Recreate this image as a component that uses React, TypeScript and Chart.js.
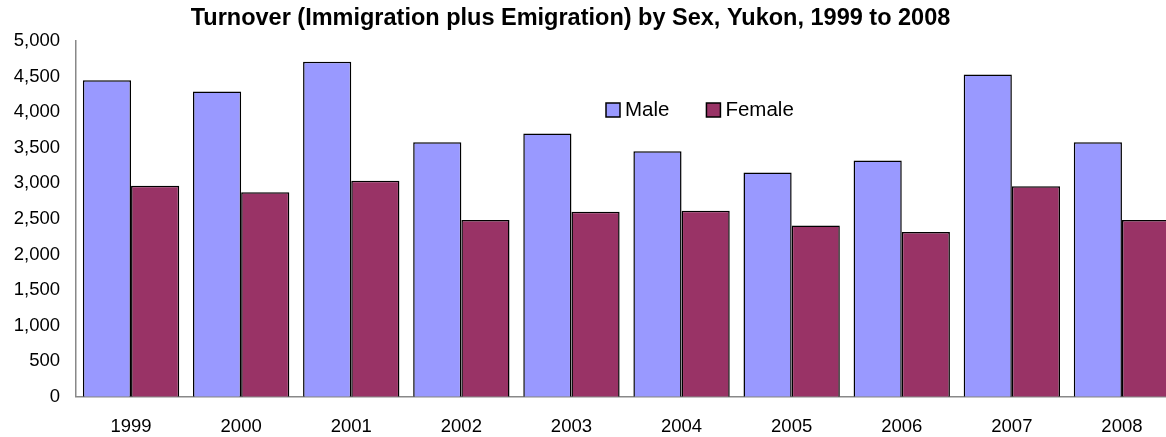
import React, { useEffect, useRef } from "react";
import { Chart, registerables } from "chart.js";

Chart.register(...registerables);

const categories = ["1999", "2000", "2001", "2002", "2003", "2004", "2005", "2006", "2007", "2008"];
const maleValues = [4450, 4290, 4710, 3575, 3700, 3450, 3150, 3320, 4530, 3575];
const femaleValues = [2965, 2875, 3035, 2485, 2600, 2615, 2405, 2315, 2960, 2485];
const seriesLabels = ["Male", "Female"];
const seriesColors = ["#9999FF", "#993366"];
const titleText = "Turnover (Immigration plus Emigration) by Sex, Yukon, 1999 to 2008";

const FONT = "'Liberation Sans', Arial, Helvetica, sans-serif";

const overlayPlugin = {
  id: "overlay",
  afterDraw(chart: any) {
    const ctx = chart.ctx;
    ctx.save();
    // title
    ctx.fillStyle = "#000";
    ctx.font = `bold 23.5px ${FONT}`;
    ctx.textAlign = "center";
    ctx.textBaseline = "middle";
    ctx.fillText(titleText, 570.5, 18.6);
    // legend
    ctx.font = `20.5px ${FONT}`;
    ctx.textAlign = "left";
    let x = 606;
    const y = 110;
    chart.data.datasets.forEach((ds: any) => {
      ctx.fillStyle = ds.backgroundColor;
      ctx.fillRect(x, y - 7, 14, 14);
      ctx.strokeStyle = "#000";
      ctx.lineWidth = 1.5;
      ctx.strokeRect(x, y - 7, 14, 14);
      ctx.fillStyle = "#000";
      ctx.fillText(ds.label, x + 19, y);
      const w = ctx.measureText(ds.label).width;
      x += 19 + w + 37;
    });
    ctx.restore();
  },
};

export default function App() {
  const ref = useRef<HTMLCanvasElement>(null);
  useEffect(() => {
    if (!ref.current) return;
    const chart = new Chart(ref.current, {
      type: "bar",
      data: {
        labels: categories,
        datasets: [
          {
            label: seriesLabels[0],
            data: maleValues,
            backgroundColor: seriesColors[0],
            borderColor: "#000",
            borderWidth: 1.5,
            categoryPercentage: 0.875,
            barPercentage: 1,
          },
          {
            label: seriesLabels[1],
            data: femaleValues,
            backgroundColor: seriesColors[1],
            borderColor: "#000",
            borderWidth: 1.5,
            categoryPercentage: 0.875,
            barPercentage: 1,
          },
        ],
      },
      options: {
        responsive: false,
        animation: false,
        layout: { padding: { top: 41, right: 3, bottom: 0, left: 0 } },
        plugins: {
          legend: { display: false },
          title: { display: false },
          tooltip: { enabled: false },
        },
        scales: {
          x: {
            afterFit: (scale: any) => {
              scale.height = 40.3;
            },
            grid: { display: false, drawTicks: false },
            border: { display: true, color: "#888", width: 1.5 },
            ticks: { color: "#000", font: { family: FONT, size: 18.5 }, padding: 19 },
          },
          y: {
            min: 0,
            max: 5000,
            afterFit: (scale: any) => {
              scale.width = 76;
            },
            grid: { display: false, drawTicks: false },
            border: { display: true, color: "#888", width: 1.5 },
            ticks: {
              stepSize: 500,
              color: "#000",
              font: { family: FONT, size: 18.5 },
              padding: 16,
              callback: (v: any) => Number(v).toLocaleString("en-US"),
            },
          },
        },
      },
      plugins: [overlayPlugin],
    });
    return () => chart.destroy();
  }, []);
  return (
    <div style={{ position: "absolute", left: 0, top: 0, width: 1166, height: 437, overflow: "hidden" }}>
      <canvas ref={ref} width={1180} height={437} style={{ display: "block" }} />
    </div>
  );
}
